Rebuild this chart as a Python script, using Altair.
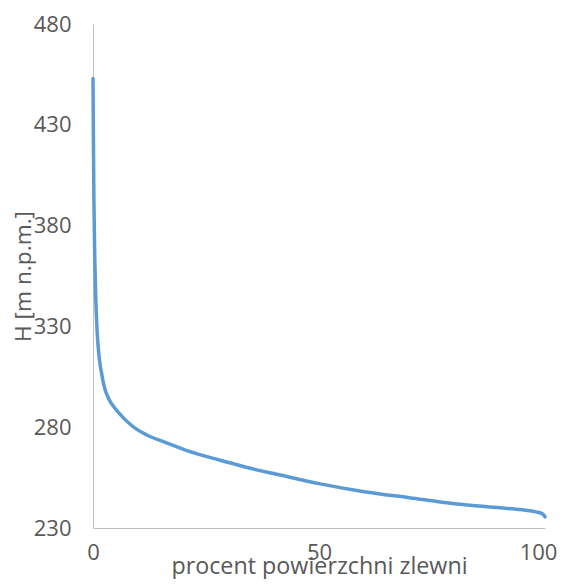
import altair as alt
import pandas as pd

pct = [0, 0.1, 0.2, 0.4, 0.6, 0.9, 1.3, 1.8, 2.5, 3.5, 5, 7, 9, 12, 16, 20, 25, 30, 35, 40, 50, 60, 70, 80, 90, 95, 98, 99.5, 100]
height_m = [453, 420, 393, 363, 345, 328, 316, 308, 300, 294, 289, 284, 280, 276, 272.5, 269, 265.5, 262.5, 259.5, 257, 252, 248, 245, 242, 240, 239, 238, 237, 235.5]

df = pd.DataFrame({"x": pct, "H": height_m})

FONT = "Open Sans"
GREY = "#595959"
FS = 22

chart = alt.Chart(df).mark_line(color="#5b9bd5", strokeWidth=3.5, strokeCap="round",
                                interpolate="monotone").encode(
    x=alt.X("x:Q", scale=alt.Scale(domain=[0, 100], nice=False),
            axis=alt.Axis(values=[0, 50, 100], grid=False, ticks=False, domainColor="#bfbfbf",
                          domainWidth=1, labelColor=GREY, labelFont=FONT, labelFontSize=FS,
                          labelPadding=14, labelFlush=False,
                          labelOffset=alt.condition("datum.value == 100", alt.value(-7), alt.value(0)),
                          title="procent powierzchni zlewni", titleFont=FONT, titleFontSize=23.3,
                          titleFontWeight="normal", titleColor=GREY, titleX=226, titleY=45,
                          titleBaseline="alphabetic", titleAlign="center")),
    y=alt.Y("H:Q", scale=alt.Scale(domain=[230, 480], nice=False, zero=False),
            axis=alt.Axis(values=[230, 280, 330, 380, 430, 480], grid=False, ticks=False,
                          domainColor="#bfbfbf", domainWidth=1, labelColor=GREY, labelFont=FONT,
                          labelFontSize=FS, labelPadding=22, labelFlush=False,
                          title="H [m n.p.m.]", titleFont=FONT, titleFontSize=22.7,
                          titleFontWeight="normal", titleColor=GREY, titleX=-63, titleY=252,
                          titleAngle=-90, titleBaseline="alphabetic", titleAlign="center")),
).properties(
    width=452, height=504,
    autosize=alt.AutoSizeParams(type="none"),
    padding={"left": 85, "top": 16, "right": 13, "bottom": 51},
).configure_view(stroke=None)

chart.save("out.html", embed_options={"renderer": "svg", "actions": False})
